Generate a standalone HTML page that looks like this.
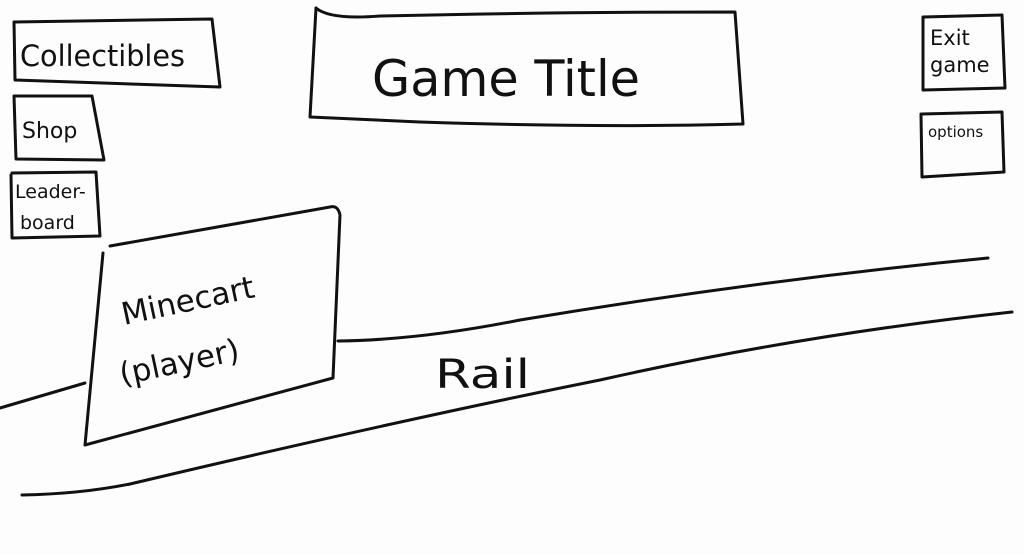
<!DOCTYPE html>
<html><head><meta charset="utf-8"><style>
html,body{margin:0;padding:0;background:#fdfdfd;}
svg{display:block}
text{font-family:"DejaVu Sans","Liberation Sans",sans-serif;fill:#111}
</style></head><body>
<svg width="1024" height="555" viewBox="0 0 1024 555" xmlns="http://www.w3.org/2000/svg">
<g fill="none" stroke="#111" stroke-width="3" stroke-linecap="round" stroke-linejoin="round">
<path d="M14,22 L212,19 L220,87 L15,80 L14,22"/>
<path d="M14,96 L92,96 L104,160 L16,159 L14,96"/>
<path d="M12,173 L96,172 L100,236 L12,238 L11,175"/>
<path d="M316,8 Q330,20 380,16 Q550,12 735,12 L743,124 Q600,128 420,122 L310,117 L316,8"/>
<path d="M923,17 L1002,15 L1005,88 L923,90 L923,17"/>
<path d="M922,114 L1002,112 L1004,172 L922,177 L921,114"/>
<path d="M103,253 L85,445 L333,378 L340,215 Q338,205 330,207 L110,246"/>
<path d="M0,408 L85,383"/>
<path d="M338,341 Q420,340 520,320 Q760,280 988,258"/>
<path d="M22,495 Q80,494 130,484 Q400,420 600,380 Q800,335 1012,312"/>
</g>
<text x="20" y="66" font-size="29" textLength="165" lengthAdjust="spacingAndGlyphs">Collectibles</text>
<text x="22" y="138" font-size="22">Shop</text>
<text x="15" y="198" font-size="19">Leader-</text>
<text x="20" y="229" font-size="19">board</text>
<text x="372" y="96" font-size="50" textLength="268" lengthAdjust="spacingAndGlyphs">Game Title</text>
<text x="930" y="45" font-size="21">Exit</text>
<text x="930" y="72" font-size="21">game</text>
<text x="928" y="137" font-size="15">options</text>
<text x="124" y="325" font-size="31" transform="rotate(-12 124 325)">Minecart</text>
<text x="122" y="385" font-size="31" transform="rotate(-12 122 385)">(player)</text>
<text x="435" y="388" font-size="40" textLength="95" lengthAdjust="spacingAndGlyphs">Rail</text>
</svg>
</body></html>
